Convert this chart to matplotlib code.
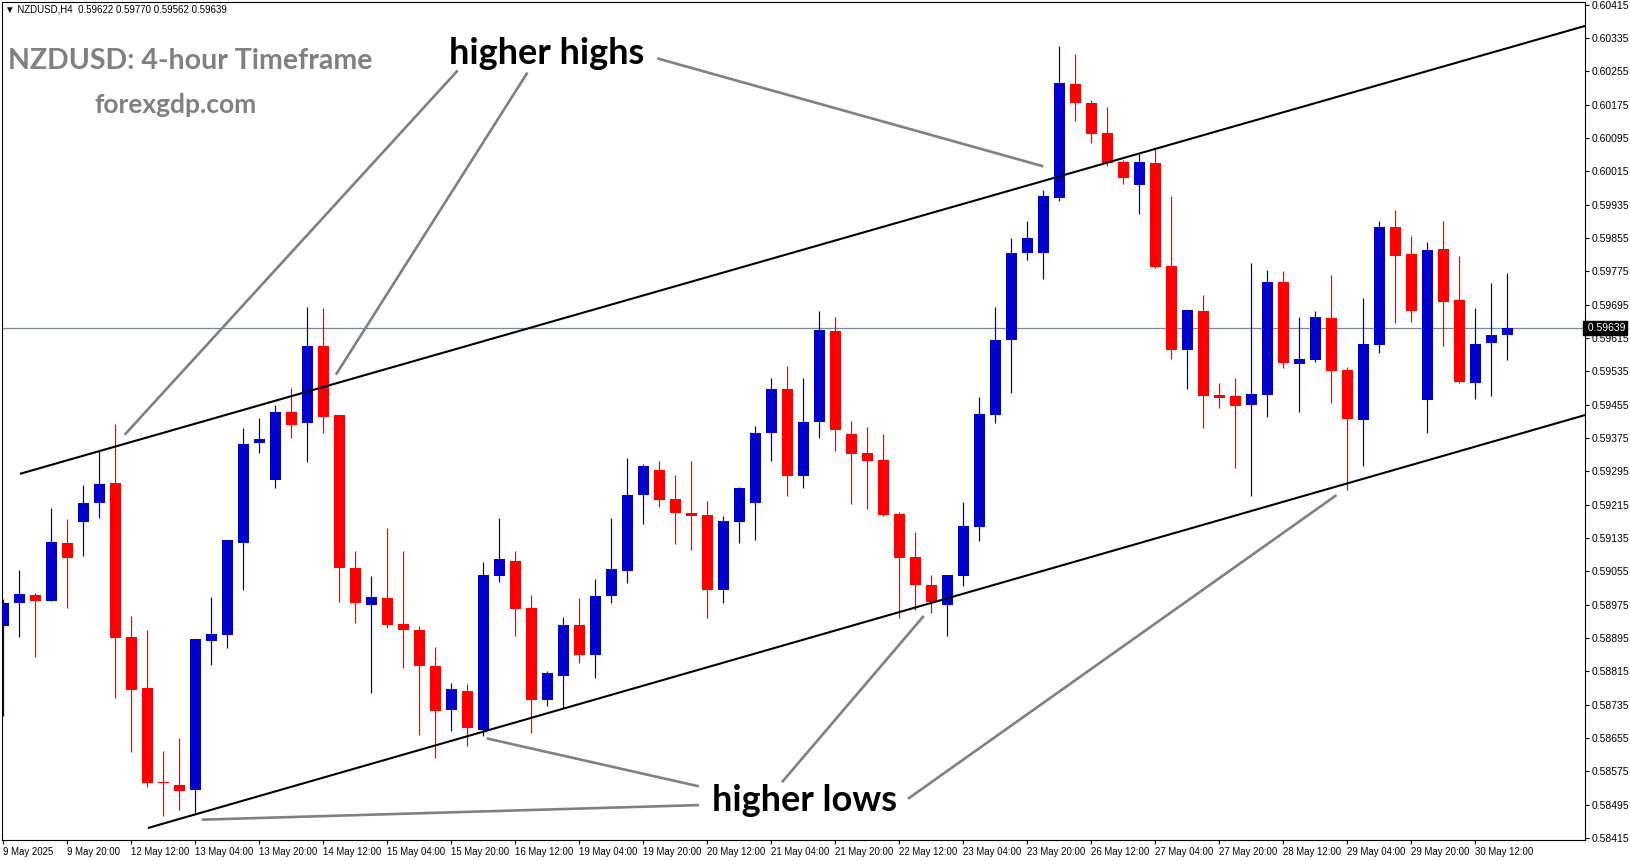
import matplotlib
matplotlib.use('Agg')
import matplotlib.pyplot as plt
import numpy as np

plt.rcParams['font.family'] = ['Liberation Sans', 'DejaVu Sans']

# NZDUSD H4 candles, 9 May 04:00 .. 30 May 20:00
opens = [0.58923, 0.58978, 0.58998, 0.58985, 0.59123, 0.59174, 0.59218, 0.59267, 0.58897, 0.58775,
         0.58550, 0.58542, 0.58531, 0.58889, 0.58903, 0.59122, 0.59362, 0.59275, 0.59437, 0.59410,
         0.59596, 0.59430, 0.59063, 0.58975, 0.58991, 0.58928, 0.58914, 0.58827, 0.58723, 0.58767,
         0.58675, 0.59045, 0.59079, 0.58967, 0.58747, 0.58803, 0.58926, 0.58855, 0.58997, 0.59057,
         0.59239, 0.59298, 0.59229, 0.59195, 0.59190, 0.59011, 0.59174, 0.59220, 0.59388, 0.59493,
         0.59283, 0.59414, 0.59631, 0.59384, 0.59339, 0.59322, 0.59192, 0.59089, 0.59022, 0.58975,
         0.59044, 0.59162, 0.59431, 0.59611, 0.59818, 0.59818, 0.59952, 0.60225, 0.60179, 0.60107,
         0.60037, 0.59983, 0.60035, 0.59788, 0.59587, 0.59680, 0.59477, 0.59475, 0.59454, 0.59478,
         0.59749, 0.59553, 0.59562, 0.59663, 0.59538, 0.59418, 0.59598, 0.59881, 0.59817, 0.59466,
         0.59829, 0.59706, 0.59507, 0.59603, 0.59622]
highs = [0.58989, 0.59058, 0.59003, 0.59207, 0.59181, 0.59262, 0.59343, 0.59409, 0.58948, 0.58914,
         0.58624, 0.58655, 0.58893, 0.58993, 0.59130, 0.59399, 0.59423, 0.59454, 0.59495, 0.59690,
         0.59687, 0.59430, 0.59105, 0.59044, 0.59159, 0.59105, 0.58923, 0.58873, 0.58787, 0.58784,
         0.59077, 0.59184, 0.59105, 0.58998, 0.58815, 0.58945, 0.58991, 0.59036, 0.59184, 0.59327,
         0.59312, 0.59319, 0.59286, 0.59320, 0.59224, 0.59188, 0.59257, 0.59404, 0.59520, 0.59548,
         0.59519, 0.59680, 0.59665, 0.59416, 0.59402, 0.59384, 0.59197, 0.59149, 0.59046, 0.59046,
         0.59222, 0.59473, 0.59689, 0.59855, 0.59896, 0.59970, 0.60316, 0.60296, 0.60186, 0.60170,
         0.60042, 0.60056, 0.60070, 0.59956, 0.59682, 0.59718, 0.59506, 0.59519, 0.59795, 0.59778,
         0.59776, 0.59665, 0.59680, 0.59766, 0.59545, 0.59711, 0.59896, 0.59922, 0.59860, 0.59845,
         0.59896, 0.59812, 0.59687, 0.59747, 0.59770]
lows = [0.58707, 0.58897, 0.58849, 0.58985, 0.58966, 0.59092, 0.59184, 0.58752, 0.58622, 0.58537,
        0.58467, 0.58481, 0.58472, 0.58831, 0.58870, 0.59011, 0.59340, 0.59256, 0.59374, 0.59318,
        0.59386, 0.58982, 0.58932, 0.58762, 0.58920, 0.58824, 0.58663, 0.58606, 0.58673, 0.58637,
        0.58659, 0.59030, 0.58901, 0.58666, 0.58731, 0.58727, 0.58836, 0.58800, 0.58980, 0.59028,
        0.59169, 0.59210, 0.59121, 0.59107, 0.58942, 0.58980, 0.59123, 0.59130, 0.59321, 0.59237,
        0.59254, 0.59374, 0.59345, 0.59217, 0.59205, 0.59188, 0.58942, 0.58963, 0.58954, 0.58899,
        0.59021, 0.59129, 0.59412, 0.59484, 0.59803, 0.59757, 0.59943, 0.60135, 0.60083, 0.60029,
        0.59985, 0.59913, 0.59784, 0.59565, 0.59493, 0.59399, 0.59446, 0.59302, 0.59237, 0.59425,
        0.59543, 0.59437, 0.59557, 0.59459, 0.59250, 0.59308, 0.59579, 0.59651, 0.59653, 0.59387,
        0.59596, 0.59507, 0.59469, 0.59476, 0.59562]
closes = [0.58979, 0.59000, 0.58985, 0.59125, 0.59088, 0.59219, 0.59265, 0.58896, 0.58771, 0.58546,
          0.58548, 0.58529, 0.58893, 0.58905, 0.59130, 0.59361, 0.59373, 0.59437, 0.59407, 0.59596,
          0.59426, 0.59062, 0.58980, 0.58993, 0.58925, 0.58915, 0.58827, 0.58721, 0.58772, 0.58678,
          0.59046, 0.59084, 0.58964, 0.58747, 0.58811, 0.58926, 0.58855, 0.58996, 0.59061, 0.59238,
          0.59308, 0.59225, 0.59194, 0.59189, 0.59011, 0.59176, 0.59255, 0.59387, 0.59493, 0.59283,
          0.59413, 0.59634, 0.59395, 0.59337, 0.59321, 0.59191, 0.59086, 0.59023, 0.58981, 0.59046,
          0.59164, 0.59432, 0.59610, 0.59819, 0.59855, 0.59956, 0.60227, 0.60178, 0.60104, 0.60035,
          0.59998, 0.60037, 0.59786, 0.59587, 0.59682, 0.59477, 0.59472, 0.59452, 0.59481, 0.59749,
          0.59555, 0.59565, 0.59665, 0.59536, 0.59421, 0.59601, 0.59881, 0.59812, 0.59680, 0.59826,
          0.59701, 0.59509, 0.59601, 0.59622, 0.59639]

date_labels = ['9 May 2025', '9 May 20:00', '12 May 12:00', '13 May 04:00', '13 May 20:00',
               '14 May 12:00', '15 May 04:00', '15 May 20:00', '16 May 12:00', '19 May 04:00',
               '19 May 20:00', '20 May 12:00', '21 May 04:00', '21 May 20:00', '22 May 12:00',
               '23 May 04:00', '23 May 20:00', '26 May 12:00', '27 May 04:00', '27 May 20:00',
               '28 May 12:00', '29 May 04:00', '29 May 20:00', '30 May 12:00']

price_ticks = [0.60415 - 0.0008 * k for k in range(26)]
last_price = 0.59639

# channel (bar index, price)
upper_channel = ([1.04, 98.86], [0.59289, 0.60364])
lower_channel = ([9.04, 98.86], [0.58439, 0.59430])

# pointer lines from the labels
highs_pointers = [([7.59, 28.40], [0.59383, 0.60257]),
                  ([20.79, 32.76], [0.59527, 0.60252]),
                  ([40.88, 65.00], [0.60286, 0.60027])]
lows_pointers = [([12.41, 43.48], [0.58459, 0.58494]),
                 ([30.22, 43.48], [0.58654, 0.58539]),
                 ([48.67, 57.53], [0.58549, 0.58948]),
                 ([56.54, 83.33], [0.58509, 0.59238])]

W, H = 1631, 861
fig = plt.figure(figsize=(W / 100, H / 100), dpi=100)
ax = fig.add_axes([2 / W, 21 / H, 1583 / W, 838 / H])

o = np.array(opens)
h = np.array(highs)
l = np.array(lows)
c = np.array(closes)
idx = np.arange(len(o))
cols = np.where(c >= o, '#0000CD', '#FF0000')

ax.axhline(last_price, color='#778899', lw=0.9, zorder=1)
ax.vlines(idx, l, h, colors=cols, lw=0.9, zorder=2)
ax.bar(idx, np.maximum(np.abs(c - o), 0.00001), bottom=np.minimum(o, c), width=0.67,
       color=cols, linewidth=0, zorder=3)

for xs, ys in [upper_channel, lower_channel]:
    ax.plot(xs, ys, color='black', lw=1.5, zorder=4, solid_capstyle='butt')
for xs, ys in highs_pointers + lows_pointers:
    ax.plot(xs, ys, color='#808080', lw=1.9, zorder=5, solid_capstyle='butt')

ax.text(33.98, 0.60297, 'higher highs', family='Lato', fontweight='bold', fontsize=26,
        ha='center', va='center', zorder=6)
ax.text(50.1, 0.58505, 'higher lows', family='Lato', fontweight='bold', fontsize=26,
        ha='center', va='center', zorder=6)

fig.text(190 / W, 1 - 61 / H, 'NZDUSD: 4-hour Timeframe', family='Lato', fontweight='bold',
         fontsize=20.5, color='#808080', ha='center', va='center')
fig.text(176 / W, 1 - 105 / H, 'forexgdp.com', family='Lato', fontweight='bold',
         fontsize=19, color='#808080', ha='center', va='center')
fig.text(5 / W, 1 - 9 / H, '\u25bc NZDUSD,H4  0.59622 0.59770 0.59562 0.59639', fontsize=7,
         ha='left', va='center')

ax.set_xlim(-0.08, 98.86)
ax.set_ylim(0.584102, 0.604214)

ax.yaxis.tick_right()
ax.set_yticks(price_ticks)
ax.set_yticklabels([f'{p:.5f}' for p in price_ticks])
ax.tick_params(axis='y', length=3, width=0.8, pad=2, labelsize=7.5)

ax.set_xticks(np.arange(0, 4 * len(date_labels), 4))
ax.set_xticklabels(date_labels, ha='left')
ax.tick_params(axis='x', length=3, width=0.8, pad=2, labelsize=6.9)

for s in ax.spines.values():
    s.set_linewidth(0.8)
    s.set_color('black')

ax.text(1.0, last_price, ' 0.59639', transform=ax.get_yaxis_transform(), fontsize=7.5,
        color='white', ha='left', va='center', zorder=10, clip_on=False,
        bbox=dict(boxstyle='square,pad=0.15', fc='black', ec='black'))

fig.savefig('out.png', dpi=100)
